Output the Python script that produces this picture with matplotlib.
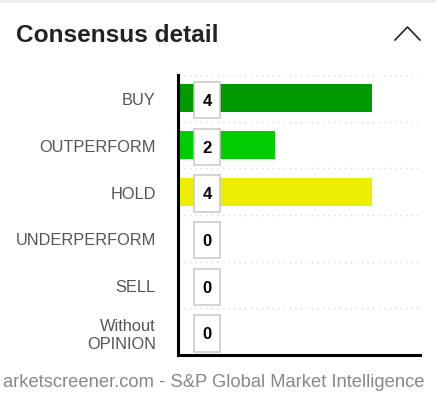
import matplotlib
matplotlib.use("Agg")
import matplotlib.pyplot as plt
from matplotlib.patches import Rectangle
from matplotlib.lines import Line2D
from matplotlib.transforms import ScaledTranslation
import numpy as np

plt.rcParams["font.family"] = ["Liberation Sans", "DejaVu Sans"]

categories = ["BUY", "OUTPERFORM", "HOLD", "UNDERPERFORM", "SELL", "Without\nOPINION"]
counts = [4, 2, 4, 0, 0, 0]
colors = ["#009900", "#00cc00", "#eeee00", "#cccccc", "#cccccc", "#cccccc"]

W, H = 436, 406
fig = plt.figure(figsize=(W / 100, H / 100), dpi=100)
fig.patch.set_facecolor("white")


def fx(px):
    return px / W


def fy(py):
    return 1 - py / H


# grey strip above the card
fig.patches.append(Rectangle((0, fy(4)), 1, 4 / H, transform=fig.transFigure,
                             facecolor="#efefef", edgecolor="none"))

fig.text(fx(16), fy(36), "Consensus detail", fontsize=17.6, fontweight="bold",
         color="#222222", ha="left", va="center")
# collapse chevron
fig.add_artist(Line2D([fx(395), fx(407.5), fx(420)], [fy(41), fy(28), fy(41)],
                      transform=fig.transFigure, color="#222222", lw=1.2))

left, right, top, bottom = 178, 420, 76, 356
ax = fig.add_axes([fx(left), fy(bottom), fx(right - left), (bottom - top) / H])

y = np.arange(len(categories))
ax.barh(y, counts, height=0.6, color=colors, edgecolor="none", zorder=2)

for yy, c in zip(y, counts):
    ax.add_patch(Rectangle((0.33, yy - 0.35), 0.54, 0.78, facecolor="white",
                           edgecolor="#c8c8c8", linewidth=1.1, zorder=3))
    ax.text(0.6, yy + 0.05, str(c), ha="center", va="center", fontsize=12,
            fontweight="bold", color="black", zorder=4)

ax.hlines(np.arange(-0.5, len(categories) - 1), 0, 5, colors="#d8d8d8",
          linestyles=(0, (1, 3)), linewidth=1, zorder=1)

ax.set_xlim(0, 5)
ax.set_ylim(len(categories) - 0.5, -0.5)
ax.set_yticks(y)
ax.set_yticklabels(categories, fontsize=11.8, color="#555555", ha="right")
shift = ScaledTranslation(0, -2.5 / 100, fig.dpi_scale_trans)
for lab in ax.get_yticklabels():
    lab.set_transform(lab.get_transform() + shift)
ax.tick_params(axis="y", length=0, pad=16)
ax.set_xticks([])
for side in ("top", "right"):
    ax.spines[side].set_visible(False)
for side in ("left", "bottom"):
    ax.spines[side].set_color("black")
    ax.spines[side].set_linewidth(2.2)
ax.spines["bottom"].set_bounds(0, 5)

fig.text(fx(3), fy(383), "arketscreener.com - S&P Global Market Intelligence",
         fontsize=13.2, color="#888888", ha="left", va="center")

fig.savefig("out.png", dpi=100)
